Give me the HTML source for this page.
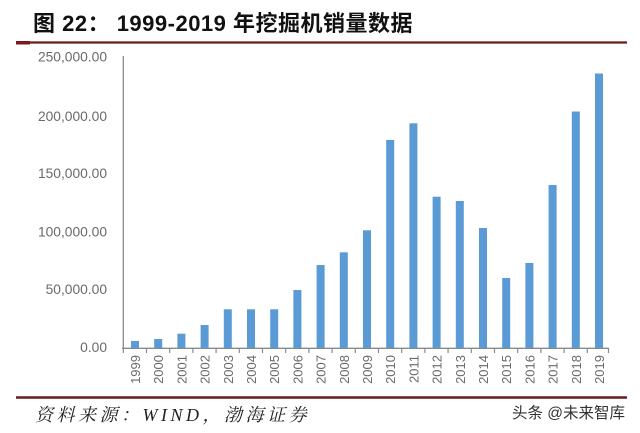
<!DOCTYPE html>
<html>
<head>
<meta charset="utf-8">
<style>
  html,body{margin:0;padding:0;background:#fff;}
  body{width:640px;height:433px;overflow:hidden;position:relative;}
  svg{position:absolute;left:0;top:0;}
</style>
</head>
<body>
<svg width="640" height="433" viewBox="0 0 640 433" xmlns="http://www.w3.org/2000/svg">
  <!-- Title -->
  <text x="33" y="31" font-family="'Liberation Sans','Noto Sans CJK SC',sans-serif" font-size="22" font-weight="bold" fill="#111" letter-spacing="0.5">图 22： 1999-2019 年挖掘机销量数据</text>
  <!-- top rule -->
  <line x1="16" y1="42.5" x2="627" y2="42.5" stroke="#6b1a1e" stroke-width="2.2"/>
  <rect x="16" y="41" width="14" height="3.5" fill="#7a1a1e"/>

  <!-- Y axis labels -->
  <g font-family="'Liberation Sans',sans-serif" font-size="13.8" fill="#6a6a6a" text-anchor="end">
    <text x="107" y="61.5">250,000.00</text>
    <text x="107" y="121">200,000.00</text>
    <text x="107" y="178">150,000.00</text>
    <text x="107" y="236.5">100,000.00</text>
    <text x="107" y="294">50,000.00</text>
    <text x="107" y="352">0.00</text>
  </g>

  <!-- axes -->
  <line x1="123.3" y1="56" x2="123.3" y2="348.5" stroke="#8a8a8a" stroke-width="1.3"/>
  <line x1="122" y1="348.3" x2="609" y2="348.3" stroke="#8a8a8a" stroke-width="1.3"/>
  <g stroke="#8a8a8a" stroke-width="1.2">
    <line x1="123.3" y1="348" x2="123.3" y2="353"/>
    <line x1="146.5" y1="348" x2="146.5" y2="353"/>
    <line x1="169.7" y1="348" x2="169.7" y2="353"/>
    <line x1="192.9" y1="348" x2="192.9" y2="353"/>
    <line x1="216.1" y1="348" x2="216.1" y2="353"/>
    <line x1="239.3" y1="348" x2="239.3" y2="353"/>
    <line x1="262.5" y1="348" x2="262.5" y2="353"/>
    <line x1="285.7" y1="348" x2="285.7" y2="353"/>
    <line x1="308.9" y1="348" x2="308.9" y2="353"/>
    <line x1="332.1" y1="348" x2="332.1" y2="353"/>
    <line x1="355.3" y1="348" x2="355.3" y2="353"/>
    <line x1="378.5" y1="348" x2="378.5" y2="353"/>
    <line x1="401.7" y1="348" x2="401.7" y2="353"/>
    <line x1="424.9" y1="348" x2="424.9" y2="353"/>
    <line x1="448.1" y1="348" x2="448.1" y2="353"/>
    <line x1="471.3" y1="348" x2="471.3" y2="353"/>
    <line x1="494.5" y1="348" x2="494.5" y2="353"/>
    <line x1="517.7" y1="348" x2="517.7" y2="353"/>
    <line x1="540.9" y1="348" x2="540.9" y2="353"/>
    <line x1="564.1" y1="348" x2="564.1" y2="353"/>
    <line x1="587.3" y1="348" x2="587.3" y2="353"/>
    <line x1="608.5" y1="348" x2="608.5" y2="353"/>
  </g>

  <!-- bars -->
  <g fill="#5b9bd5">
    <rect x="131" y="341" width="8" height="7"/>
    <rect x="154.2" y="339" width="8" height="9"/>
    <rect x="177.4" y="333.7" width="8" height="14.3"/>
    <rect x="200.6" y="325" width="8" height="23"/>
    <rect x="223.8" y="309.3" width="8" height="38.7"/>
    <rect x="247" y="309.3" width="8" height="38.7"/>
    <rect x="270.2" y="309.3" width="8" height="38.7"/>
    <rect x="293.4" y="290" width="8" height="58"/>
    <rect x="316.6" y="265" width="8" height="83"/>
    <rect x="339.8" y="252.3" width="8" height="95.7"/>
    <rect x="363" y="230.3" width="8" height="117.7"/>
    <rect x="386.2" y="140" width="8" height="208"/>
    <rect x="409.4" y="123.3" width="8" height="224.7"/>
    <rect x="432.6" y="196.7" width="8" height="151.3"/>
    <rect x="455.8" y="201" width="8" height="147"/>
    <rect x="479" y="228" width="8" height="120"/>
    <rect x="502.2" y="278" width="8" height="70"/>
    <rect x="525.4" y="263" width="8" height="85"/>
    <rect x="548.6" y="185" width="8" height="163"/>
    <rect x="571.8" y="111.5" width="8" height="236.5"/>
    <rect x="595" y="73.5" width="8" height="274.5"/>
  </g>

  <!-- x labels -->
  <g font-family="'Liberation Sans',sans-serif" font-size="13" fill="#6a6a6a" text-anchor="end">
    <text transform="translate(140,355) rotate(-90)">1999</text>
    <text transform="translate(163.2,355) rotate(-90)">2000</text>
    <text transform="translate(186.4,355) rotate(-90)">2001</text>
    <text transform="translate(209.6,355) rotate(-90)">2002</text>
    <text transform="translate(232.8,355) rotate(-90)">2003</text>
    <text transform="translate(256,355) rotate(-90)">2004</text>
    <text transform="translate(279.2,355) rotate(-90)">2005</text>
    <text transform="translate(302.4,355) rotate(-90)">2006</text>
    <text transform="translate(325.6,355) rotate(-90)">2007</text>
    <text transform="translate(348.8,355) rotate(-90)">2008</text>
    <text transform="translate(372,355) rotate(-90)">2009</text>
    <text transform="translate(395.2,355) rotate(-90)">2010</text>
    <text transform="translate(418.4,355) rotate(-90)">2011</text>
    <text transform="translate(441.6,355) rotate(-90)">2012</text>
    <text transform="translate(464.8,355) rotate(-90)">2013</text>
    <text transform="translate(488,355) rotate(-90)">2014</text>
    <text transform="translate(511.2,355) rotate(-90)">2015</text>
    <text transform="translate(534.4,355) rotate(-90)">2016</text>
    <text transform="translate(557.6,355) rotate(-90)">2017</text>
    <text transform="translate(580.8,355) rotate(-90)">2018</text>
    <text transform="translate(604,355) rotate(-90)">2019</text>
  </g>

  <!-- bottom rule -->
  <line x1="16" y1="397.5" x2="627" y2="397.5" stroke="#6b1a1e" stroke-width="2.6"/>

  <!-- source -->
  <text x="35" y="421" font-family="'Liberation Serif','Noto Serif CJK SC',serif" font-size="18" font-style="italic" fill="#222" letter-spacing="3.5">资料来源：WIND，渤海证券</text>
  <!-- watermark -->
  <text x="512" y="418" font-family="'Liberation Sans','Noto Sans CJK SC',sans-serif" font-size="15.5" fill="#333">头条 @未来智库</text>
</svg>
</body>
</html>
